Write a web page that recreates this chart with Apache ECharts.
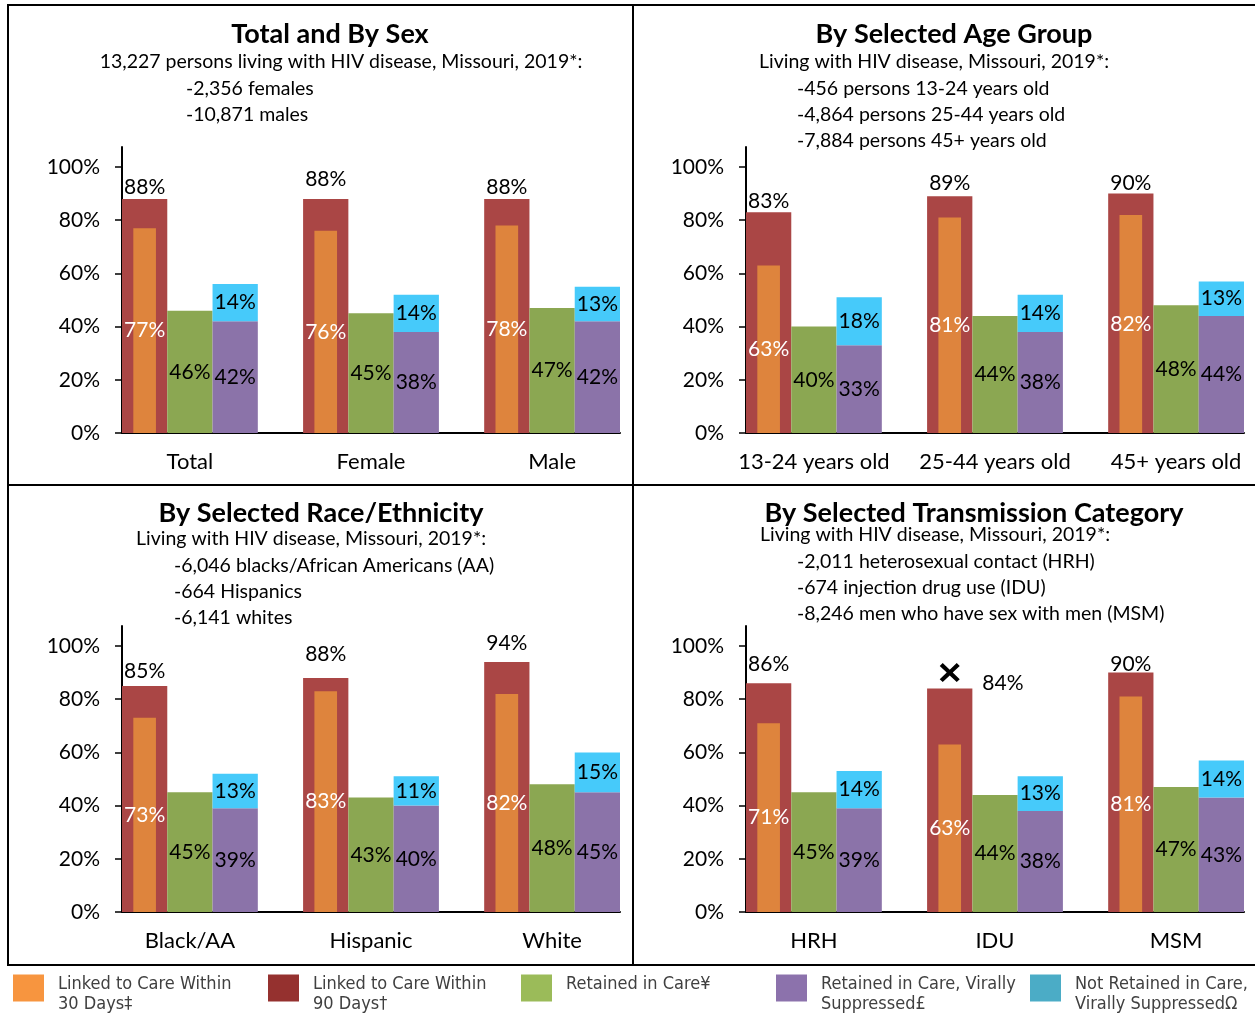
<!DOCTYPE html>
<html><head><meta charset="utf-8">
<script src="https://cdn.jsdelivr.net/npm/echarts@6/dist/echarts.min.js"></script>
<style>html,body{margin:0;padding:0;background:#fff}#c{width:1255px;height:1015px}</style>
</head><body><div id="c"></div>
<script>
// ---------- DATA ----------
const sexCats = ['Total', 'Female', 'Male'];
const sexLinked30 = [77, 76, 78];
const sexLinked90 = [88, 88, 88];
const sexRetained = [46, 45, 47];
const sexRetainedSupp = [42, 38, 42];
const sexNotRetainedSupp = [14, 14, 13];

const ageCats = ['13-24 years old', '25-44 years old', '45+ years old'];
const ageLinked30 = [63, 81, 82];
const ageLinked90 = [83, 89, 90];
const ageRetained = [40, 44, 48];
const ageRetainedSupp = [33, 38, 44];
const ageNotRetainedSupp = [18, 14, 13];

const raceCats = ['Black/AA', 'Hispanic', 'White'];
const raceLinked30 = [73, 83, 82];
const raceLinked90 = [85, 88, 94];
const raceRetained = [45, 43, 48];
const raceRetainedSupp = [39, 40, 45];
const raceNotRetainedSupp = [13, 11, 15];

const transCats = ['HRH', 'IDU', 'MSM'];
const transLinked30 = [71, 63, 81];
const transLinked90 = [86, 84, 90];
const transRetained = [45, 44, 47];
const transRetainedSupp = [39, 38, 43];
const transNotRetainedSupp = [14, 13, 14];

const yTickValues = [0, 20, 40, 60, 80, 100];

const titles = ['Total and By Sex', 'By Selected Age Group', 'By Selected Race/Ethnicity', 'By Selected Transmission Category'];
const subtitles = [
  '13,227 persons living with HIV disease, Missouri, 2019*:',
  'Living with HIV disease, Missouri, 2019*:',
  'Living with HIV disease, Missouri, 2019*:',
  'Living with HIV disease, Missouri, 2019*:'
];
const sexNotes = ['-2,356 females', '-10,871 males'];
const ageNotes = ['-456 persons 13-24 years old', '-4,864 persons 25-44 years old', '-7,884 persons 45+ years old'];
const raceNotes = ['-6,046 blacks/African Americans (AA)', '-664 Hispanics', '-6,141 whites'];
const transNotes = ['-2,011 heterosexual contact (HRH)', '-674 injection drug use (IDU)', '-8,246 men who have sex with men (MSM)'];

const N30 = 'Linked to Care Within\n30 Days\u2021';
const N90 = 'Linked to Care Within\n90 Days\u2020';
const NR = 'Retained in Care\u00a5';
const NRS = 'Retained in Care, Virally\nSuppressed\u00a3';
const NNS = 'Not Retained in Care,\nVirally Suppressed\u03a9';

// ---------- STYLE / LAYOUT ----------
const FONT = 'Lato, Carlito, sans-serif';
const LEGEND_FONT = '"Liberation Sans Narrow", "Arial Narrow", "DejaVu Sans Condensed", sans-serif';
const C_RED = '#AA4645', C_ORANGE = '#DE843D', C_GREEN = '#8BA752', C_PURPLE = '#8B73A9', C_CYAN = '#46CAFA';
const LEG = [
  { name: N30, color: '#F7953F', left: 13 },
  { name: N90, color: '#95312F', left: 268 },
  { name: NR, color: '#9BBB59', left: 521 },
  { name: NRS, color: '#8C72AC', left: 776 },
  { name: NNS, color: '#4BACC6', left: 1030 }
];
const AXIS_LEN = 498, UNIT = AXIS_LEN / 11, PX100 = 266, YMAX = 107.5;

const panels = [
  { cats: sexCats, l30: sexLinked30, l90: sexLinked90, ret: sexRetained, rs: sexRetainedSupp, ns: sexNotRetainedSupp,
    axisX: 122, zeroY: 433, redGap: [1, 9, 1], title: [330, 34], sub: [341, 62], notes: sexNotes, notesPos: [186, 89] },
  { cats: ageCats, l30: ageLinked30, l90: ageLinked90, ret: ageRetained, rs: ageRetainedSupp, ns: ageNotRetainedSupp,
    axisX: 746, zeroY: 433, redGap: [0, 3, 0], title: [954, 34], sub: [934, 62], notes: ageNotes, notesPos: [797, 89] },
  { cats: raceCats, l30: raceLinked30, l90: raceLinked90, ret: raceRetained, rs: raceRetainedSupp, ns: raceNotRetainedSupp,
    axisX: 122, zeroY: 912, redGap: [4, 13, 8], title: [321, 513], sub: [311, 539], notes: raceNotes, notesPos: [174, 566] },
  { cats: transCats, l30: transLinked30, l90: transLinked90, ret: transRetained, rs: transRetainedSupp, ns: transNotRetainedSupp,
    axisX: 746, zeroY: 912, redGap: [9, 0, -2], title: [974, 513], sub: [935, 535], notes: transNotes, notesPos: [797, 562],
    flagIndex: 1 }
];

const grid = [], xAxis = [], yAxis = [], series = [], title = [];
const H = PX100 * YMAX / 100;
const lbl = (color) => ({ show: true, position: 'inside', formatter: '{c}%', color: color, fontSize: 21, fontFamily: FONT });

panels.forEach((p, i) => {
  grid.push({ left: p.axisX - UNIT / 2, top: p.zeroY - H, width: UNIT * 12, height: H, outerBoundsMode: 'none', containLabel: false });
  grid.push({ left: p.axisX, top: p.zeroY - H, width: AXIS_LEN, height: H, outerBoundsMode: 'none', containLabel: false });
  xAxis.push({ type: 'category', gridIndex: 2 * i, data: p.cats, axisLine: { show: false }, axisTick: { show: false },
    axisLabel: { fontSize: 22, color: '#000', margin: 18, fontFamily: FONT, interval: 0 } });
  xAxis.push({ type: 'category', gridIndex: 2 * i, data: p.cats, show: false });
  xAxis.push({ type: 'category', gridIndex: 2 * i + 1, data: [''], axisLine: { show: true, lineStyle: { color: '#000', width: 2 } },
    axisTick: { show: false }, axisLabel: { show: false } });
  yAxis.push({ type: 'value', gridIndex: 2 * i, min: 0, max: YMAX, show: false });
  yAxis.push({ type: 'value', gridIndex: 2 * i + 1, min: 0, max: YMAX,
    axisLine: { show: true, lineStyle: { color: '#000', width: 2 } },
    axisTick: { show: true, customValues: yTickValues, length: 7, lineStyle: { color: '#000', width: 1.5 } },
    axisLabel: { customValues: yTickValues, formatter: '{value}%', fontSize: 21, color: '#000', margin: 22, fontFamily: FONT },
    splitLine: { show: false } });

  const xa = 3 * i, xo = 3 * i + 1, ya = 2 * i;
  const redData = p.l90.map((v, j) => {
    if (p.flagIndex === j) {
      return { value: v, label: { position: ['100%', 0], align: 'left', verticalAlign: 'middle', offset: [10, -5], distance: 0 } };
    }
    return { value: v, label: { distance: p.redGap[j] } };
  });
  const red = { type: 'bar', name: N90, xAxisIndex: xa, yAxisIndex: ya, data: redData, barGap: 0, barCategoryGap: '25%',
    itemStyle: { color: C_RED }, label: Object.assign(lbl('#000'), { position: 'top' }), silent: true };
  if (p.flagIndex !== undefined) {
    red.markPoint = { silent: true, symbol: 'path://M3,0 L10,7 L17,0 L20,3 L13,10 L20,17 L17,20 L10,13 L3,20 L0,17 L7,10 L0,3 Z',
      symbolSize: [20, 19], symbolOffset: [0, -16], itemStyle: { color: '#000' }, label: { show: false },
      data: [{ coord: [p.cats[p.flagIndex], p.l90[p.flagIndex]] }] };
  }
  series.push(red);
  series.push({ type: 'bar', name: NR, xAxisIndex: xa, yAxisIndex: ya, data: p.ret, barGap: 0, barCategoryGap: '25%',
    itemStyle: { color: C_GREEN }, label: lbl('#000'), silent: true });
  series.push({ type: 'bar', name: NRS, xAxisIndex: xa, yAxisIndex: ya, data: p.rs, stack: 'vs' + i, barGap: 0, barCategoryGap: '25%',
    itemStyle: { color: C_PURPLE }, label: lbl('#000'), silent: true });
  series.push({ type: 'bar', name: NNS, xAxisIndex: xa, yAxisIndex: ya, data: p.ns, stack: 'vs' + i, barGap: 0, barCategoryGap: '25%',
    itemStyle: { color: C_CYAN }, label: lbl('#000'), silent: true });
  series.push({ type: 'bar', name: N30, xAxisIndex: xo, yAxisIndex: ya, data: p.l30, barWidth: UNIT / 2, barGap: '100%',
    itemStyle: { color: C_ORANGE }, label: lbl('#fff'), silent: true, z: 3 });
  ['_pad1', '_pad2'].forEach(n => series.push({ type: 'bar', name: n + i, xAxisIndex: xo, yAxisIndex: ya,
    data: p.cats.map(() => null), barWidth: UNIT / 2, barGap: '100%', silent: true }));

  title.push({ text: titles[i], left: p.title[0], top: p.title[1] - 16, textAlign: 'center', padding: 0,
    textStyle: { fontFamily: FONT, fontSize: 27, fontWeight: 'bold', color: '#000', lineHeight: 32 } });
  title.push({ text: subtitles[i], left: p.sub[0], top: p.sub[1] - 13, textAlign: 'center', padding: 0,
    textStyle: { fontFamily: FONT, fontSize: 19.5, fontWeight: 'normal', color: '#000', lineHeight: 26 } });
  title.push({ text: p.notes.join('\n'), left: p.notesPos[0], top: p.notesPos[1] - 13, padding: 0,
    textStyle: { fontFamily: FONT, fontSize: 19.5, fontWeight: 'normal', color: '#000', lineHeight: 26 } });
});

const legend = LEG.map(l => ({
  left: l.left, top: 967, orient: 'horizontal', selectedMode: false, icon: 'rect', itemWidth: 31, itemHeight: 27, padding: 0,
  data: [{ name: l.name, itemStyle: { color: l.color } }],
  formatter: n => {
    const lines = n.split('\n');
    if (lines.length < 2) lines.push(' ');
    return '{s| }\n' + lines.map(t => '{t|' + t + '}').join('\n');
  },
  textStyle: { padding: [0, 0, 0, 9],
    rich: {
      s: { fontSize: 2, lineHeight: 13 },
      t: { fontFamily: LEGEND_FONT, fontSize: 18, color: '#404040', lineHeight: 20 }
    } }
}));

const chart = echarts.init(document.getElementById('c'), null, { renderer: 'canvas' });
chart.setOption({
  animation: false,
  backgroundColor: '#fff',
  title, grid, xAxis, yAxis, series, legend,
  graphic: [
    { type: 'rect', silent: true, shape: { x: 8, y: 5, width: 1262, height: 960 }, style: { fill: 'none', stroke: '#000', lineWidth: 2 } },
    { type: 'line', silent: true, shape: { x1: 633, y1: 5, x2: 633, y2: 965 }, style: { stroke: '#000', lineWidth: 2 } },
    { type: 'line', silent: true, shape: { x1: 8, y1: 485, x2: 1260, y2: 485 }, style: { stroke: '#000', lineWidth: 2 } }
  ]
});
</script></body></html>
